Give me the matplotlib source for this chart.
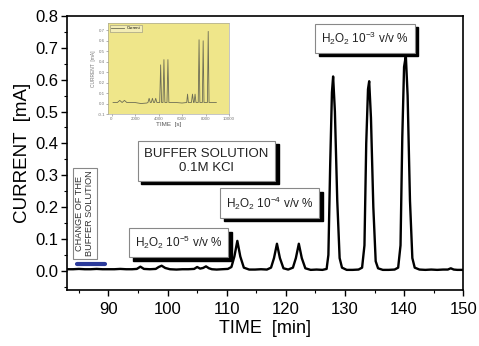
import matplotlib
matplotlib.use('Agg')
import matplotlib.pyplot as plt
from matplotlib.transforms import offset_copy
from matplotlib.ticker import MultipleLocator

plt.rcParams['font.family'] = ['Liberation Sans', 'DejaVu Sans']
plt.rcParams['mathtext.fontset'] = 'custom'
plt.rcParams['mathtext.rm'] = 'Liberation Sans'
plt.rcParams['mathtext.it'] = 'Liberation Sans:italic'

# main trace (time in min, current in mA)
time_min = [83, 84, 85, 86, 87, 88, 89, 90, 91, 92, 93, 94, 94.8, 95.4, 96.0, 97, 98, 98.5,
            99.0, 99.6, 100.4, 101.5, 102.5, 103.5, 104.5, 105.0, 105.5, 106.0, 106.5, 107.0,
            107.5, 108.3, 109.2, 110.2, 110.8, 111.3, 111.8, 112.3, 112.9, 113.8, 114.8, 115.8,
            116.8, 117.5, 118.0, 118.5, 119.0, 119.6, 120.4, 121.2, 121.7, 122.2, 122.7, 123.3,
            124.2, 125.2, 126.2, 126.9, 127.2, 127.5, 127.8, 128.0, 128.3, 128.7, 129.1, 129.5,
            130.3, 131.3, 132.3, 132.9, 133.3, 133.6, 133.9, 134.1, 134.4, 134.8, 135.2, 135.6,
            136.4, 137.4, 138.4, 139.0, 139.4, 139.7, 140.0, 140.3, 140.6, 141.0, 141.4, 141.8,
            142.6, 143.6, 144.6, 145.6, 146.6, 147.4, 147.9, 148.4, 149.0, 150]
current_ma = [0.005, 0.005, 0.006, 0.005, 0.005, 0.006, 0.005, 0.005, 0.005, 0.006, 0.005, 0.005,
              0.006, 0.013, 0.006, 0.005, 0.006, 0.012, 0.016, 0.009, 0.005, 0.004, 0.005, 0.005,
              0.006, 0.012, 0.007, 0.009, 0.014, 0.008, 0.005, 0.004, 0.005, 0.006, 0.012, 0.045,
              0.094, 0.045, 0.01, 0.004, 0.004, 0.005, 0.004, 0.01, 0.04, 0.085, 0.04, 0.008,
              0.004, 0.01, 0.04, 0.085, 0.04, 0.008, 0.003, 0.004, 0.003, 0.006, 0.05, 0.33,
              0.56, 0.61, 0.5, 0.22, 0.04, 0.01, 0.003, 0.003, 0.004, 0.01, 0.08, 0.4, 0.57, 0.595,
              0.48, 0.2, 0.03, 0.008, 0.003, 0.003, 0.004, 0.01, 0.08, 0.42, 0.64, 0.675, 0.55,
              0.22, 0.04, 0.01, 0.004, 0.003, 0.004, 0.003, 0.004, 0.004, 0.008, 0.004, 0.003,
              0.003]

# blue marker for the buffer change
blue_time = [84.7, 89.5]
blue_current = [0.02, 0.02]

# inset: whole run in seconds
inset_time_s = [130, 500, 700, 900, 1100, 1300, 2000, 2500, 3000, 3100, 3200, 3300, 3380, 3480,
                3580, 3660, 3760, 3860, 4100, 4180, 4260, 4380, 4460, 4540, 4720, 4800, 4880,
                5500, 6000, 6400, 6470, 6540, 6800, 6890, 6980, 7030, 7110, 7190, 7380, 7450,
                7520, 7730, 7800, 7870, 8160, 8230, 8300, 8920]
inset_current = [0.01, 0.01, 0.03, 0.01, 0.03, 0.01, 0.01, 0.0, 0.005, 0.01, 0.05, 0.01, 0.01,
                 0.05, 0.01, 0.01, 0.05, 0.01, 0.01, 0.37, 0.01, 0.01, 0.42, 0.01, 0.01, 0.42,
                 0.01, 0.01, 0.005, 0.01, 0.09, 0.01, 0.01, 0.09, 0.01, 0.01, 0.09, 0.01, 0.01,
                 0.61, 0.01, 0.01, 0.60, 0.01, 0.01, 0.69, 0.01, 0.01]

fig = plt.figure(figsize=(4.79, 3.46), dpi=100)
ax = fig.add_axes([0.140, 0.162, 0.827, 0.792])

ax.plot(time_min, current_ma, color='black', lw=1.7)
ax.plot(blue_time, blue_current, color='#2b3a9a', lw=3, solid_capstyle='round', zorder=5)

ax.set_xlim(83, 150)
ax.set_ylim(-0.06, 0.8)
ax.xaxis.set_major_locator(MultipleLocator(10))
ax.xaxis.set_minor_locator(MultipleLocator(5))
ax.yaxis.set_major_locator(MultipleLocator(0.1))
ax.yaxis.set_minor_locator(MultipleLocator(0.05))
ax.yaxis.set_major_formatter(matplotlib.ticker.FormatStrFormatter('%.1f'))
ax.tick_params(which='major', direction='out', length=4, width=1, labelsize=12, pad=2)
ax.tick_params(axis='x', which='major', pad=5)
ax.tick_params(which='minor', direction='out', length=2, width=0.8)
for s in ax.spines.values():
    s.set_linewidth(1.2)
ax.set_xlabel('TIME  [min]', fontsize=13, labelpad=2)
ax.set_ylabel('CURRENT  [mA]', fontsize=13.5, labelpad=3)


def shadow_box(x, y, txt, size, **kw):
    sh = offset_copy(ax.transData, fig=fig, x=2.5, y=-2.5, units='points')
    ax.text(x, y, txt, transform=sh, fontsize=size, color='black', ha='center', va='center',
            bbox=dict(boxstyle='square,pad=0.5', fc='black', ec='black'), **kw)
    ax.text(x, y, txt, fontsize=size, color='#222222', ha='center', va='center',
            bbox=dict(boxstyle='square,pad=0.5', fc='white', ec='#888888', lw=0.8), **kw)


shadow_box(106.6, 0.345, 'BUFFER SOLUTION\n0.1M KCl', 9.5, linespacing=1.3)
shadow_box(101.9, 0.088, r'H$_2$O$_2$ 10$^{-5}$ v/v %', 8.5)
shadow_box(117.3, 0.213, r'H$_2$O$_2$ 10$^{-4}$ v/v %', 8.5)
shadow_box(133.4, 0.73, r'H$_2$O$_2$ 10$^{-3}$ v/v %', 8.5)

ax.text(86.0, 0.18, 'CHANGE OF THE\nBUFFER SOLUTION', rotation=90, fontsize=6.6,
        color='#333333', ha='center', va='center', linespacing=1.15,
        bbox=dict(boxstyle='square,pad=0.3', fc='white', ec='#888888', lw=0.8))

# inset
ins = fig.add_axes([0.2255, 0.6705, 0.2526, 0.263])
ins.set_facecolor('#efe68a')
ins.plot(inset_time_s, inset_current, color='#6d6d55', lw=0.6, label='Current')
ins.set_xlim(-300, 9850)
ins.set_ylim(-0.1, 0.77)
ins.set_xticks([0, 2000, 4000, 6000, 8000, 10000])
ins.set_yticks([-0.1, 0.0, 0.1, 0.2, 0.3, 0.4, 0.5, 0.6, 0.7])
ins.yaxis.set_major_formatter(matplotlib.ticker.FormatStrFormatter('%.1f'))
ins.tick_params(labelsize=3.2, length=1.2, width=0.4, pad=1, colors='#777777')
for s in ins.spines.values():
    s.set_linewidth(0.4)
    s.set_color('#999999')
ins.set_xlabel('TIME  [s]', fontsize=4.5, labelpad=1, color='#555555')
ins.set_ylabel('CURRENT  [mA]', fontsize=3.5, labelpad=1, color='#777777')
leg = ins.legend(loc='upper left', fontsize=3, frameon=True, handlelength=3,
                 borderpad=0.3, fancybox=False, edgecolor='#777777')
leg.get_frame().set_linewidth(0.4)
leg.get_frame().set_facecolor('#f5f0c0')

fig.savefig('out.png', dpi=100)
